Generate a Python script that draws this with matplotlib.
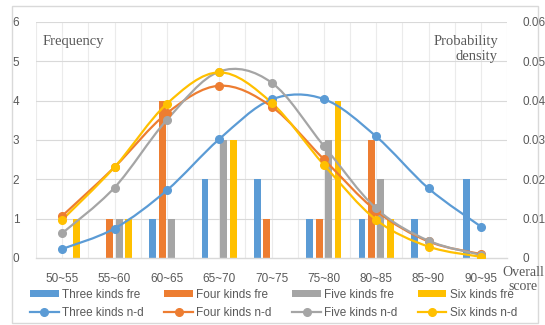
import matplotlib
matplotlib.use("Agg")
import matplotlib.pyplot as plt
from matplotlib.path import Path
from matplotlib.patches import PathPatch, Rectangle
from matplotlib.lines import Line2D
import numpy as np

# ---------------------------------------------------------------------------
# Data
# ---------------------------------------------------------------------------
categories = ["50~55", "55~60", "60~65", "65~70", "70~75",
              "75~80", "80~85", "85~90", "90~95"]

three_fre = [0, 0, 1, 2, 2, 1, 1, 1, 2]
four_fre = [0, 1, 4, 0, 1, 1, 3, 0, 0]
five_fre = [0, 1, 1, 3, 0, 3, 2, 0, 0]
six_fre = [1, 1, 0, 3, 0, 4, 1, 0, 0]

three_nd = [0.0023, 0.0075, 0.0172, 0.0302, 0.0403, 0.0404, 0.0309, 0.0177, 0.0080]
four_nd = [0.0107, 0.0231, 0.0368, 0.0438, 0.0385, 0.0251, 0.0120, 0.0042, 0.0010]
five_nd = [0.0063, 0.0179, 0.0351, 0.0474, 0.0446, 0.0285, 0.0126, 0.0044, 0.0008]
six_nd = [0.0097, 0.0231, 0.0392, 0.0472, 0.0395, 0.0237, 0.0097, 0.0029, 0.0003]

freq_ticks = [0, 1, 2, 3, 4, 5, 6]
dens_ticks = [0, 0.01, 0.02, 0.03, 0.04, 0.05, 0.06]
dens_labels = ["0", "0.01", "0.02", "0.03", "0.04", "0.05", "0.06"]

names = ["Three kinds", "Four kinds", "Five kinds", "Six kinds"]
colors = ["#5B9BD5", "#ED7D31", "#A5A5A5", "#FFC000"]

SANS = "Liberation Sans"
SERIF = "Liberation Serif"
TXT = "#595959"
GRID = "#D9D9D9"


def smooth_path(xs, ys):
    """Bezier path through the points (Excel-like smoothed line)."""
    pts = np.column_stack([xs, ys]).astype(float)
    n = len(pts)
    verts = [pts[0]]
    codes = [Path.MOVETO]
    for i in range(n - 1):
        p0 = pts[max(i - 1, 0)]
        p1 = pts[i]
        p2 = pts[i + 1]
        p3 = pts[min(i + 2, n - 1)]
        c1 = p1 + (p2 - p0) / 6.0
        c2 = p2 - (p3 - p1) / 6.0
        verts += [c1, c2, p2]
        codes += [Path.CURVE4] * 3
    return Path(verts, codes)


fig = plt.figure(figsize=(5.45, 3.25), dpi=100)
fig.patches.append(Rectangle((12 / 545, 2 / 325), 526 / 545, 317 / 325,
                             transform=fig.transFigure, fill=False,
                             edgecolor=GRID, linewidth=1.0, zorder=0))

ax = fig.add_axes([36 / 545, 1 - 258 / 325, 471 / 545, 236 / 325])
x = np.arange(len(categories))

# grid
for gx in np.arange(-0.5, len(categories), 0.5):
    ax.axvline(gx, color="#EBEBEB", linewidth=0.8, zorder=0)
for gy in freq_ticks[1:]:
    ax.axhline(gy, color=GRID, linewidth=0.8, zorder=0)

fre_series = [three_fre, four_fre, five_fre, six_fre]
nd_series = [three_nd, four_nd, five_nd, six_nd]
offsets = [-0.27, -0.09, 0.09, 0.27]
bar_handles = []
for vals, off, col, nm in zip(fre_series, offsets, colors, names):
    b = ax.bar(x + off, vals, width=0.13, color=col, zorder=2,
               label=nm + " fre")
    bar_handles.append(b)

ax.set_xlim(-0.5, len(categories) - 0.5)
ax.set_ylim(0, 6)
ax.set_yticks(freq_ticks)
ax.set_xticks(x)
ax.set_xticklabels(categories)
for s in ["top", "right", "left"]:
    ax.spines[s].set_visible(False)
ax.spines["bottom"].set_color(GRID)
ax.spines["bottom"].set_linewidth(1.0)
ax.tick_params(axis="both", length=0, colors=TXT, labelsize=8.5)
ax.tick_params(axis="y", pad=12)
ax.tick_params(axis="x", pad=11)
for lab in ax.get_xticklabels() + ax.get_yticklabels():
    lab.set_fontfamily(SANS)

ax2 = ax.twinx()
ax2.set_ylim(0, 0.06)
ax2.set_yticks(dens_ticks)
ax2.set_yticklabels(dens_labels)
for s in ["top", "right", "left", "bottom"]:
    ax2.spines[s].set_visible(False)
ax2.tick_params(axis="y", length=0, colors=TXT, labelsize=8.5, pad=11)
for lab in ax2.get_yticklabels():
    lab.set_fontfamily(SANS)

line_handles = []
for vals, col, nm in zip(nd_series, colors, names):
    ax2.add_patch(PathPatch(smooth_path(x, vals), facecolor="none",
                            edgecolor=col, linewidth=1.6, zorder=3))
    ax2.plot(x, vals, "o", color=col, markersize=5.5, zorder=4)
    line_handles.append(Line2D([], [], color=col, linewidth=1.6, marker="o",
                               markersize=5.5, label=nm + " n-d"))

# axis titles
fig.text(43 / 545, 1 - 42 / 325, "Frequency", family=SERIF, fontsize=10.5,
         color=TXT, ha="left", va="center")
fig.text(498 / 545, 1 - 49 / 325, "Probability\ndensity", family=SERIF,
         fontsize=10.5, color=TXT, ha="right", va="center",
         multialignment="right", linespacing=1.2)
fig.text(523 / 545, 1 - 279 / 325, "Overall\nscore", family=SERIF,
         fontsize=10, color=TXT, ha="center", va="center",
         linespacing=1.1)

handles = []
for b, l in zip(bar_handles, line_handles):
    handles += [b, l]
leg = fig.legend(handles=handles, ncol=4, loc="center left",
                 bbox_to_anchor=(22 / 545, 1 - 304 / 325),
                 frameon=False, prop={"family": SANS, "size": 8.5},
                 handlelength=2.4, handleheight=0.6, handletextpad=0.3,
                 columnspacing=1.75, labelspacing=0.55, borderpad=0.2)
for t in leg.get_texts():
    t.set_color(TXT)

fig.savefig("out.png", dpi=100)
